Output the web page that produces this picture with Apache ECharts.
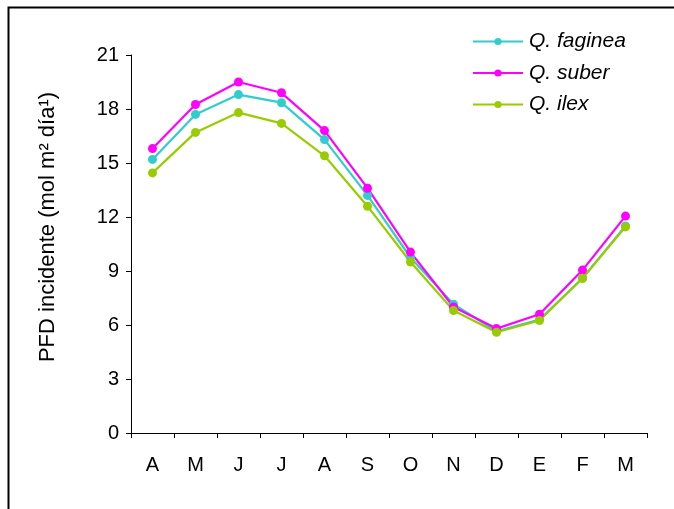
<!DOCTYPE html>
<html>
<head>
<meta charset="utf-8">
<style>
  html, body { margin: 0; padding: 0; background: #fff; }
  #chart { width: 674px; height: 509px; }
</style>
<script src="https://cdn.jsdelivr.net/npm/echarts@6/dist/echarts.min.js"></script>
</head>
<body>
<div id="chart"></div>
<script>
const months = ['A', 'M', 'J', 'J', 'A', 'S', 'O', 'N', 'D', 'E', 'F', 'M'];
const faginea = [15.2, 17.7, 18.8, 18.35, 16.3, 13.2, 9.75, 7.15, 5.65, 6.3, 8.6, 11.5];
const suber   = [15.8, 18.25, 19.5, 18.9, 16.8, 13.6, 10.05, 7.0, 5.8, 6.6, 9.05, 12.05];
const ilex    = [14.45, 16.7, 17.8, 17.2, 15.4, 12.6, 9.5, 6.8, 5.6, 6.25, 8.6, 11.45];
const seriesNames = ['Q. faginea', 'Q. suber', 'Q. ilex'];
const colors = ['#33CCCC', '#FF00FF', '#99CC00'];
const yTitle = 'PFD incidente (mol m² día¹)';

const chart = echarts.init(document.getElementById('chart'), null, { renderer: 'canvas' });
const font = 'Liberation Sans, Arial, sans-serif';
const mk = (name, data, color) => ({
  name, type: 'line', data,
  symbol: 'circle', symbolSize: 9,
  lineStyle: { color, width: 2.2 },
  itemStyle: { color },
  animation: false
});
chart.setOption({
  animation: false,
  backgroundColor: '#fff',
  graphic: [{
    type: 'rect', shape: { x: 8.5, y: 7.5, width: 700, height: 600 },
    style: { fill: 'none', stroke: '#000', lineWidth: 2 }, silent: true
  }],
  grid: { left: 131, right: 27, top: 55, bottom: 76 },
  legend: {
    orient: 'vertical', left: 467, top: 26,
    itemWidth: 50, itemHeight: 9, itemGap: 10.5,
    textStyle: { fontFamily: font, fontSize: 21, fontStyle: 'italic', color: '#000', padding: [0, 0, 0, 1] },
    data: seriesNames
  },
  xAxis: {
    type: 'category', data: months, boundaryGap: true,
    axisLine: { lineStyle: { color: '#000', width: 1 } },
    axisTick: { show: true, length: 5, alignWithLabel: false, lineStyle: { color: '#000' } },
    axisLabel: { fontFamily: font, fontSize: 20, color: '#000', margin: 22 },
    splitLine: { show: false }
  },
  yAxis: {
    type: 'value', min: 0, max: 21, interval: 3,
    name: yTitle, nameLocation: 'middle', nameGap: 72, nameRotate: 90,
    nameTextStyle: { fontFamily: font, fontSize: 22, color: '#000', padding: [0, 0, 0, 34] },
    axisLine: { show: true, lineStyle: { color: '#000', width: 1 } },
    axisTick: { show: true, length: 5, lineStyle: { color: '#000' } },
    axisLabel: { fontFamily: font, fontSize: 20, color: '#000', margin: 12 },
    splitLine: { show: false }
  },
  series: [
    mk(seriesNames[0], faginea, colors[0]),
    mk(seriesNames[1], suber, colors[1]),
    mk(seriesNames[2], ilex, colors[2])
  ]
});
</script>
</body>
</html>
